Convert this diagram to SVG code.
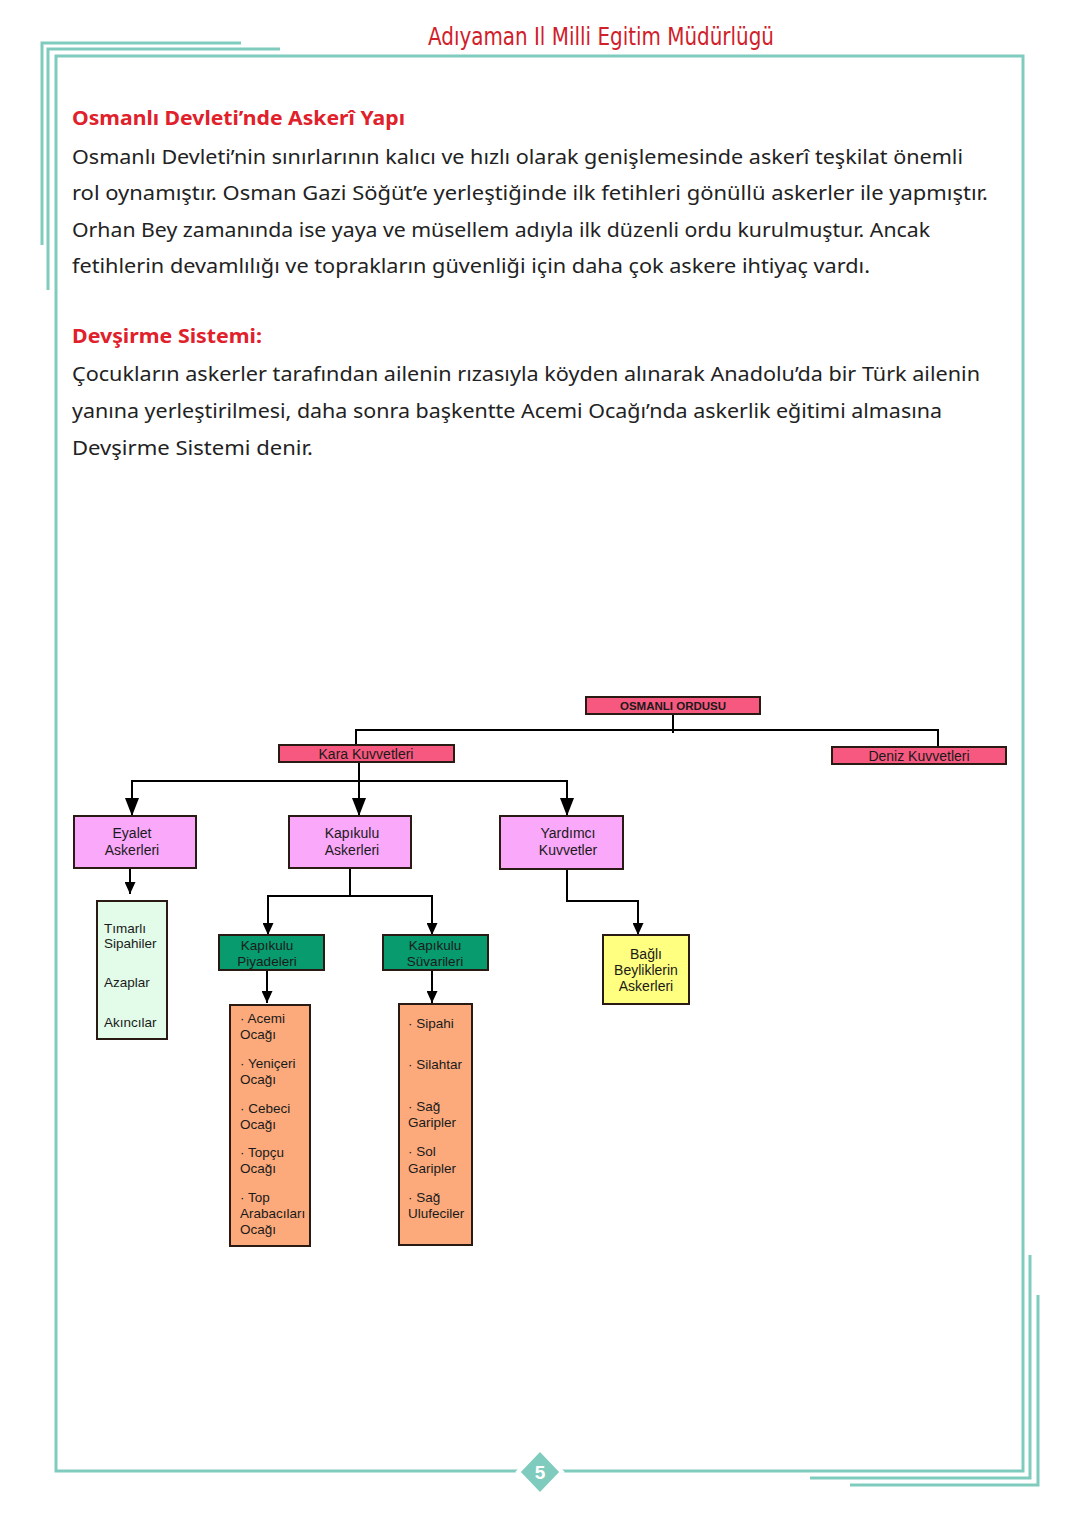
<svg xmlns="http://www.w3.org/2000/svg" width="1080" height="1527" viewBox="0 0 1080 1527">
<defs>
<style>
.frame{fill:none;stroke:#7fcbbd;stroke-width:3}
.body{font-family:"Noto Sans","DejaVu Sans",sans-serif;font-size:20px;fill:#222}
.head{font-family:"Noto Sans","DejaVu Sans",sans-serif;font-size:20px;font-weight:bold;fill:#e0202a}
.conn{fill:none;stroke:#000;stroke-width:2}
.bx{stroke:#2a1a14;stroke-width:2}
.pinkred{fill:#f7587f}
.pink{fill:#faa8fa}
.green{fill:#079b6e}
.lgreen{fill:#e2fce9}
.orange{fill:#fcaa7c}
.yellow{fill:#ffff80}
.t{font-family:"Liberation Sans",Arial,sans-serif;font-size:14px;fill:#1a1a1a}
.ts{font-family:"Liberation Sans",Arial,sans-serif;font-size:13.5px;fill:#1a1a1a}
.tc{text-anchor:middle}
</style>
<marker id="big" viewBox="0 0 18 14" refX="18" refY="7" markerWidth="18" markerHeight="14" markerUnits="userSpaceOnUse" orient="auto"><path d="M0,0 L18,7 L0,14 z" fill="#000"/></marker>
<marker id="sm" viewBox="0 0 12 11" refX="12" refY="5.5" markerWidth="12" markerHeight="11" markerUnits="userSpaceOnUse" orient="auto"><path d="M0,0 L12,5.5 L0,11 z" fill="#000"/></marker>
</defs>
<rect width="1080" height="1527" fill="#fff"/>

<g id="page-frame">
<polyline class="frame" points="241,43 42,43 42,245"/>
<polyline class="frame" points="280,49 48,49 48,290"/>
<rect class="frame" x="56" y="56" width="967" height="1415"/>
<polyline class="frame" points="1030,1255 1030,1478 810,1478"/>
<polyline class="frame" points="1038,1295 1038,1485 850,1485"/>
<polygon points="540,1449 562,1472 540,1495 518,1472" fill="#7fcbbd" stroke="#fff" stroke-width="4"/>
<text x="540" y="1479" text-anchor="middle" font-family="Liberation Sans,Arial,sans-serif" font-size="19" font-weight="bold" fill="#fff">5</text>
</g>

<text x="428" y="45" font-family="'DejaVu Sans Condensed','Noto Sans',sans-serif" font-size="24" fill="#d0202a" textLength="346" lengthAdjust="spacingAndGlyphs">Adıyaman Il Milli Egitim Müdürlügü</text>

<g id="body-text">
<text class="head" x="72" y="125" textLength="333" lengthAdjust="spacingAndGlyphs">Osmanlı Devleti’nde Askerî Yapı</text>
<text class="body" x="72" y="164" textLength="891" lengthAdjust="spacingAndGlyphs">Osmanlı Devleti’nin sınırlarının kalıcı ve hızlı olarak genişlemesinde askerî teşkilat önemli</text>
<text class="body" x="72" y="200" textLength="916" lengthAdjust="spacingAndGlyphs">rol oynamıştır. Osman Gazi Söğüt’e yerleştiğinde ilk fetihleri gönüllü askerler ile yapmıştır.</text>
<text class="body" x="72" y="237" textLength="858" lengthAdjust="spacingAndGlyphs">Orhan Bey zamanında ise yaya ve müsellem adıyla ilk düzenli ordu kurulmuştur. Ancak</text>
<text class="body" x="72" y="273" textLength="798" lengthAdjust="spacingAndGlyphs">fetihlerin devamlılığı ve toprakların güvenliği için daha çok askere ihtiyaç vardı.</text>
<text class="head" x="72" y="343" textLength="190" lengthAdjust="spacingAndGlyphs">Devşirme Sistemi:</text>
<text class="body" x="72" y="381" textLength="908" lengthAdjust="spacingAndGlyphs">Çocukların askerler tarafından ailenin rızasıyla köyden alınarak Anadolu’da bir Türk ailenin</text>
<text class="body" x="72" y="418" textLength="870" lengthAdjust="spacingAndGlyphs">yanına yerleştirilmesi, daha sonra başkentte Acemi Ocağı’nda askerlik eğitimi almasına</text>
<text class="body" x="72" y="455" textLength="241" lengthAdjust="spacingAndGlyphs">Devşirme Sistemi denir.</text>
</g>

<g id="connectors">
<line class="conn" x1="673" y1="714" x2="673" y2="733"/>
<polyline class="conn" points="356,745 356,730 938,730 938,747"/>
<line class="conn" x1="359" y1="762" x2="359" y2="781"/>
<polyline class="conn" points="132,816 132,781 567,781 567,816" marker-end="url(#big)"/>
<line class="conn" x1="132" y1="781" x2="132" y2="816" marker-end="url(#big)"/>
<line class="conn" x1="359" y1="781" x2="359" y2="816" marker-end="url(#big)"/>
<line class="conn" x1="130" y1="868" x2="130" y2="894" marker-end="url(#sm)"/>
<polyline class="conn" points="350,868 350,896 268,896 268,935" marker-end="url(#sm)"/>
<polyline class="conn" points="350,896 432,896 432,935" marker-end="url(#sm)"/>
<line class="conn" x1="267" y1="970" x2="267" y2="1003" marker-end="url(#sm)"/>
<line class="conn" x1="432" y1="970" x2="432" y2="1003" marker-end="url(#sm)"/>
<polyline class="conn" points="567,869 567,901 638,901 638,935" marker-end="url(#sm)"/>
</g>

<g id="osmanli-ordusu">
<rect class="bx pinkred" x="586" y="697" width="174" height="17"/>
<text x="673" y="710" class="tc" font-family="Liberation Sans,Arial,sans-serif" font-size="11.5" font-weight="bold" fill="#1a1a1a">OSMANLI ORDUSU</text>
</g>
<g id="kara-kuvvetleri">
<rect class="bx pinkred" x="279" y="745" width="175" height="17"/>
<text x="366" y="758.5" class="tc" font-family="Liberation Sans,Arial,sans-serif" font-size="14" fill="#1a1a1a">Kara Kuvvetleri</text>
</g>
<g id="deniz-kuvvetleri">
<rect class="bx pinkred" x="832" y="747" width="174" height="17"/>
<text x="919" y="760.5" class="tc" font-family="Liberation Sans,Arial,sans-serif" font-size="14" fill="#1a1a1a">Deniz Kuvvetleri</text>
</g>

<g id="eyalet-askerleri">
<rect class="bx pink" x="74" y="816" width="122" height="52"/>
<text class="t tc" x="132" y="838">Eyalet</text>
<text class="t tc" x="132" y="855">Askerleri</text>
</g>
<g id="kapikulu-askerleri">
<rect class="bx pink" x="289" y="816" width="122" height="52"/>
<text class="t tc" x="352" y="838">Kapıkulu</text>
<text class="t tc" x="352" y="855">Askerleri</text>
</g>
<g id="yardimci-kuvvetler">
<rect class="bx pink" x="500" y="816" width="123" height="53"/>
<text class="t tc" x="568" y="838">Yardımcı</text>
<text class="t tc" x="568" y="855">Kuvvetler</text>
</g>

<g id="eyalet-list">
<rect class="bx lgreen" x="97" y="901" width="70" height="138"/>
<text class="ts" x="104" y="933">Tımarlı</text>
<text class="ts" x="104" y="948">Sipahiler</text>
<text class="ts" x="104" y="987">Azaplar</text>
<text class="ts" x="104" y="1027">Akıncılar</text>
</g>

<g id="kapikulu-piyadeleri">
<rect class="bx green" x="219" y="935" width="105" height="35"/>
<text class="ts tc" x="267" y="950">Kapıkulu</text>
<text class="ts tc" x="267" y="966">Piyadeleri</text>
</g>
<g id="kapikulu-suvarileri">
<rect class="bx green" x="383" y="935" width="105" height="35"/>
<text class="ts tc" x="435" y="950">Kapıkulu</text>
<text class="ts tc" x="435" y="966">Süvarileri</text>
</g>

<g id="bagli-beylikler">
<rect class="bx yellow" x="603" y="935" width="86" height="69"/>
<text class="t tc" x="646" y="959">Bağlı</text>
<text class="t tc" x="646" y="975">Beyliklerin</text>
<text class="t tc" x="646" y="991">Askerleri</text>
</g>

<g id="piyade-list">
<rect class="bx orange" x="230" y="1005" width="80" height="241"/>
<text class="ts" x="240" y="1023">· Acemi</text>
<text class="ts" x="240" y="1039">Ocağı</text>
<text class="ts" x="240" y="1068">· Yeniçeri</text>
<text class="ts" x="240" y="1084">Ocağı</text>
<text class="ts" x="240" y="1113">· Cebeci</text>
<text class="ts" x="240" y="1129">Ocağı</text>
<text class="ts" x="240" y="1157">· Topçu</text>
<text class="ts" x="240" y="1173">Ocağı</text>
<text class="ts" x="240" y="1202">· Top</text>
<text class="ts" x="240" y="1218">Arabacıları</text>
<text class="ts" x="240" y="1234">Ocağı</text>
</g>

<g id="suvari-list">
<rect class="bx orange" x="399" y="1004" width="73" height="241"/>
<text class="ts" x="408" y="1028">· Sipahi</text>
<text class="ts" x="408" y="1069">· Silahtar</text>
<text class="ts" x="408" y="1111">· Sağ</text>
<text class="ts" x="408" y="1127">Garipler</text>
<text class="ts" x="408" y="1156">· Sol</text>
<text class="ts" x="408" y="1173">Garipler</text>
<text class="ts" x="408" y="1202">· Sağ</text>
<text class="ts" x="408" y="1218">Ulufeciler</text>
</g>
</svg>
